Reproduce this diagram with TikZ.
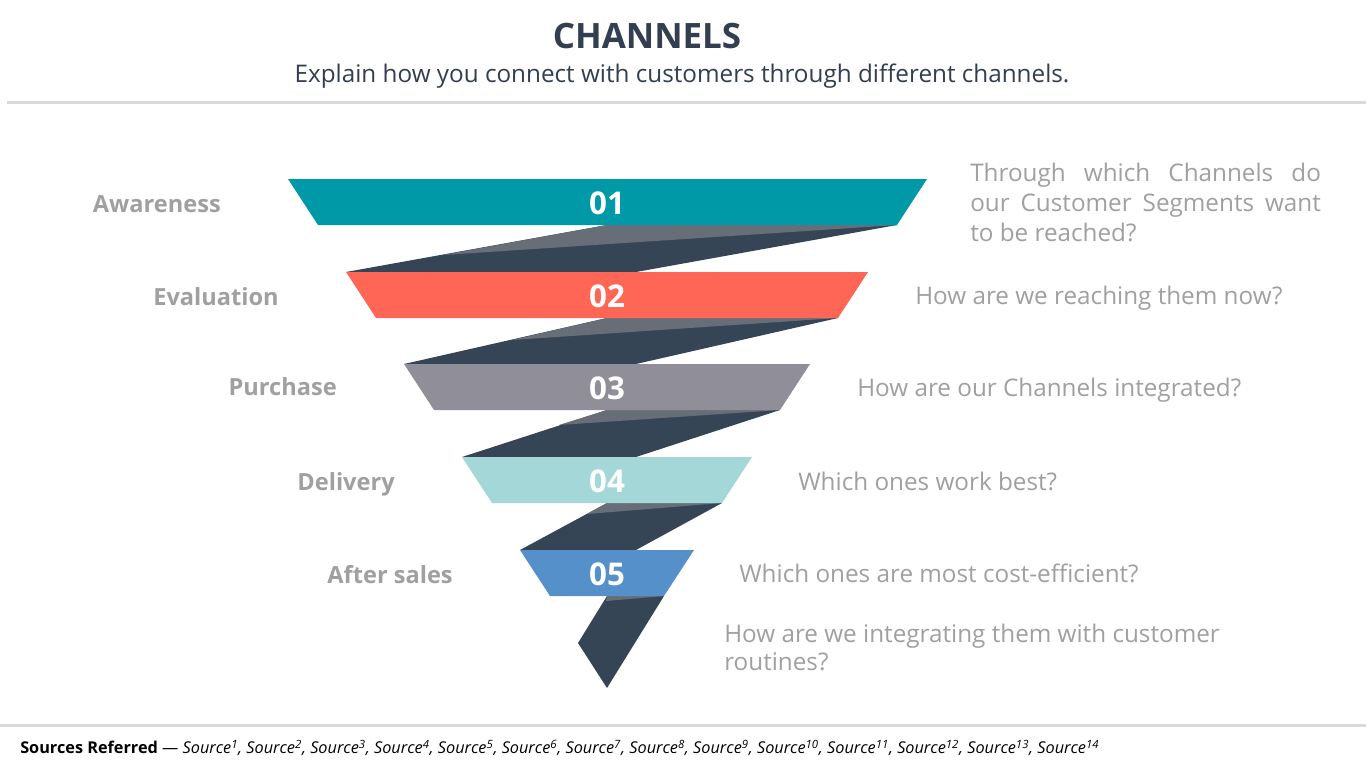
\documentclass[tikz,border=0pt]{standalone}
\usepackage{fontspec}
\setmainfont{Open Sans}

\definecolor{bandteal}{RGB}{0,153,168}
\definecolor{bandcoral}{RGB}{255,102,85}
\definecolor{bandgray}{RGB}{143,142,153}
\definecolor{bandmint}{RGB}{163,215,216}
\definecolor{bandblue}{RGB}{85,144,203}
\definecolor{twistdark}{RGB}{53,69,86}
\definecolor{twistlight}{RGB}{103,110,120}
\definecolor{titleblue}{RGB}{51,63,80}
\definecolor{labelgray}{RGB}{160,160,160}
\definecolor{rulegray}{RGB}{217,217,217}

\tikzset{
	stagelabel/.style={anchor=east, text=labelgray, font=\fontsize{17.7pt}{21pt}\selectfont\bfseries, inner sep=0pt, text height=18pt, text depth=4.4pt},
	stagenum/.style={text=white, font=\fontsize{23.5pt}{26pt}\selectfont\bfseries, inner sep=0pt},
	question/.style={text=labelgray, font=\fontsize{18.2pt}{22.5pt}\selectfont, inner sep=0pt},
	oneline/.style={question, anchor=west, text height=17pt, text depth=4.5pt}
}

\begin{document}
\begin{tikzpicture}[x=0.75pt, y=-0.75pt]

	\useasboundingbox[fill=white] (0,0) rectangle (1366,768);

	% header
	\node[text=titleblue, font=\fontsize{26.2pt}{30pt}\selectfont\bfseries, inner sep=0pt] (title) at (647,36) {CHANNELS};
	\node[text=titleblue, font=\fontsize{18.2pt}{21pt}\selectfont, inner sep=0pt] (subtitle) at (682,76) {Explain how you connect with customers through different channels.};
	\fill[rulegray] (7,100.5) rectangle (1366,103.5);

	% twists between the bands
	\fill[twistdark] (607,225) -- (897,225) -- (636,272) -- (346,272) -- cycle;
	\fill[twistlight] (607,225) -- (897,225) -- (443,255) -- cycle;
	\fill[twistdark] (607,318) -- (838,318) -- (636,364) -- (404,364) -- cycle;
	\fill[twistlight] (607,318) -- (838,318) -- (512,340) -- cycle;
	\fill[twistdark] (607,410) -- (780,410) -- (636,457) -- (462,457) -- cycle;
	\fill[twistlight] (607,410) -- (780,410) -- (559,425) -- cycle;
	\fill[twistdark] (607,503) -- (722,503) -- (636,550) -- (520,550) -- cycle;
	\fill[twistlight] (607,503) -- (722,503) -- (587,514) -- cycle;
	\fill[twistdark] (607,596) -- (664,596) -- (607,688) -- (578,643) -- cycle;
	\fill[twistlight] (607,596) -- (664,596) -- (606,601) -- cycle;

	% bands
	\fill[bandteal] (288,179) -- (927,179) -- (897,225) -- (318,225) -- cycle;
	\fill[bandcoral] (346,272) -- (868,272) -- (838,318) -- (376,318) -- cycle;
	\fill[bandgray] (404,364) -- (810,364) -- (780,410) -- (434,410) -- cycle;
	\fill[bandmint] (462,457) -- (752,457) -- (722,503) -- (492,503) -- cycle;
	\fill[bandblue] (520,550) -- (694,550) -- (664,596) -- (550,596) -- cycle;

	\node[stagenum] (num1) at (607,203) {01};
	\node[stagenum] (num2) at (607,296) {02};
	\node[stagenum] (num3) at (607,388) {03};
	\node[stagenum] (num4) at (607,481) {04};
	\node[stagenum] (num5) at (607,574) {05};

	% stages
	\node[stagelabel] (lab1) at (221,203) {Awareness};
	\node[stagelabel] (lab2) at (279,296) {Evaluation};
	\node[stagelabel] (lab3) at (337,386) {Purchase};
	\node[stagelabel] (lab4) at (395,481) {Delivery};
	\node[stagelabel] (lab5) at (453,574) {After sales};

	% questions
	\node[question, anchor=north west, text width=263pt, align=justify] (ask1) at (970,163)
		{Through which Channels do\linebreak our Customer Segments want\linebreak to be reached?};
	\node[oneline] (ask2) at (915,296) {How are we reaching them now?};
	\node[oneline] (ask3) at (857,388) {How are our Channels integrated?};
	\node[oneline] (ask4) at (798,482) {Which ones work best?};
	\node[oneline] (ask5) at (739,574) {Which ones are most cost-efficient?};
	\node[question, anchor=north west, align=left, font=\fontsize{18.2pt}{21pt}\selectfont] (ask6) at (724,624)
		{How are we integrating them with customer\\routines?};

	% footer
	\fill[rulegray] (0,723.5) rectangle (1366,726.5);
	\node[anchor=west, inner sep=0pt, font=\fontsize{12.2pt}{14pt}\selectfont] (sources) at (20,748)
		{\textbf{Sources Referred} --- \textit{Source\textsuperscript{1}, Source\textsuperscript{2}, Source\textsuperscript{3}, Source\textsuperscript{4}, Source\textsuperscript{5}, Source\textsuperscript{6}, Source\textsuperscript{7}, Source\textsuperscript{8}, Source\textsuperscript{9}, Source\textsuperscript{10}, Source\textsuperscript{11}, Source\textsuperscript{12}, Source\textsuperscript{13}, Source\textsuperscript{14}}};

\end{tikzpicture}
\end{document}
